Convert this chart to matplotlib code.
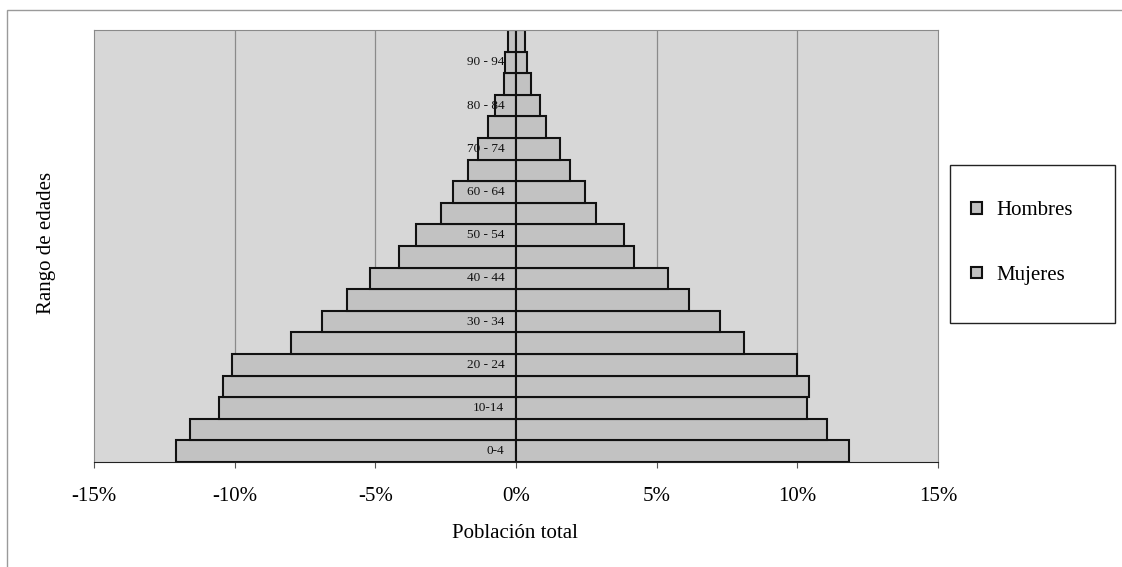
import numpy as np
import matplotlib.pyplot as plt
from matplotlib.patches import Rectangle

# grupos de edad (de abajo hacia arriba)
edades = ['0-4', '5-9', '10-14', '15-19', '20 - 24', '25-29', '30 - 34', '35-39',
          '40 - 44', '45-49', '50 - 54', '55-59', '60 - 64', '65-69', '70 - 74',
          '75-79', '80 - 84', '85-89', '90 - 94', '95+']
etiquetas_visibles = ['0-4', '10-14', '20 - 24', '30 - 34', '40 - 44', '50 - 54',
                      '60 - 64', '70 - 74', '80 - 84', '90 - 94']
# porcentaje de la poblacion total
hombres = [12.1, 11.6, 10.55, 10.4, 10.1, 8.0, 6.9, 6.0, 5.2, 4.15,
           3.55, 2.65, 2.25, 1.72, 1.34, 0.98, 0.74, 0.44, 0.38, 0.30]
mujeres = [11.85, 11.05, 10.35, 10.4, 10.0, 8.1, 7.25, 6.15, 5.4, 4.2,
           3.85, 2.85, 2.45, 1.93, 1.56, 1.07, 0.86, 0.53, 0.38, 0.33]
ticks_x = [-15, -10, -5, 0, 5, 10, 15]

plt.rcParams['font.family'] = ['Liberation Serif', 'DejaVu Serif']

fig = plt.figure(figsize=(11.22, 5.67), dpi=100)
fig.patch.set_facecolor('white')
ax = fig.add_axes([94/1122, 1-462/567, (938-94)/1122, (462-30)/567])
ax.set_facecolor('#d7d7d7')

y = np.arange(len(edades))
for xg in [-10, -5, 5, 10]:
  ax.axvline(xg, color='#8a8a8a', lw=0.9, zorder=1)

ax.barh(y, [-v for v in hombres], height=1.0, color='#c2c2c2', edgecolor='#111111',
        lw=1.5, label='Hombres', zorder=2)
ax.barh(y, mujeres, height=1.0, color='#c2c2c2', edgecolor='#111111',
        lw=1.5, label='Mujeres', zorder=2)

for i, e in enumerate(edades):
  if e in etiquetas_visibles:
    ax.text(-0.42, i, e, ha='right', va='center', fontsize=9.5, color='#111111', zorder=3)

ax.set_xlim(-15, 15)
ax.set_ylim(-0.5, len(edades) - 0.5)
ax.set_xticks(ticks_x)
ax.set_xticklabels([f'{t}%' for t in ticks_x], fontsize=15)
ax.set_yticks([])
ax.tick_params(axis='x', length=4, pad=14, color='#555555')
for s in ['top', 'left', 'right']:
  ax.spines[s].set_color('#8a8a8a')
ax.spines['bottom'].set_color('#222222')

fig.text(515/1122, 1-534/567, 'Población total', ha='center', va='center', fontsize=15)
fig.text(47/1122, 1-243/567, 'Rango de edades', ha='center', va='center',
         rotation=90, fontsize=15)

# marco exterior del grafico
fig.patches.append(Rectangle((7/1122, -0.05), 1.2, 1-10/567+0.05, transform=fig.transFigure,
                             fill=False, edgecolor='#9a9a9a', lw=1.0))

# caja de la leyenda
fig.patches.append(Rectangle((950/1122, 1-323/567), 165/1122, 158/567,
                             transform=fig.transFigure, facecolor='white',
                             edgecolor='#222222', lw=1.0))
leg = fig.legend(loc='center', bbox_to_anchor=(1022/1122, 1-243/567), fontsize=15,
                 frameon=False, handlelength=0.5, handleheight=0.5, labelspacing=2.2,
                 borderpad=0, handletextpad=0.7, borderaxespad=0)

fig.savefig('out.png', dpi=100, facecolor='white')
